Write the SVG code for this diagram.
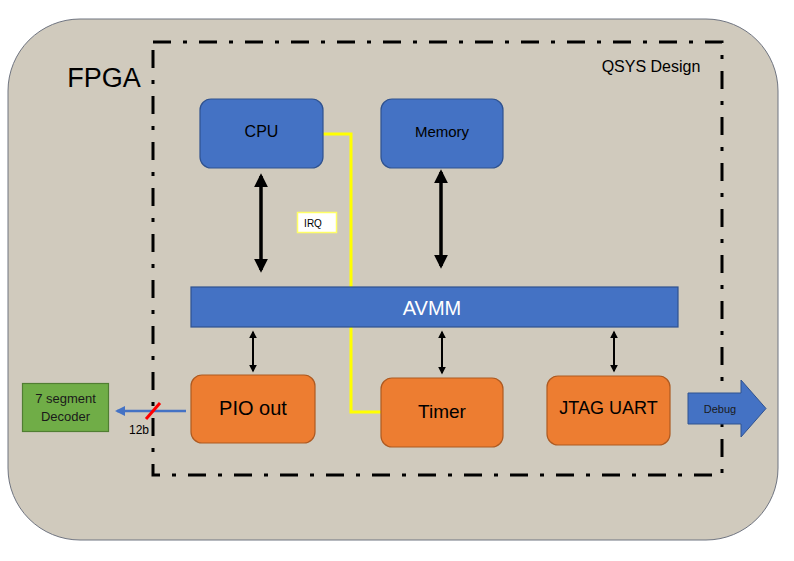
<svg xmlns="http://www.w3.org/2000/svg" width="794" height="561" viewBox="0 0 794 561">
<style>
.blue{fill:#4472c4;stroke:#2f528f;stroke-width:1.2}
.orange{fill:#ed7d31;stroke:#ae5a21;stroke-width:1.2}
.t{font-family:"Liberation Sans",Arial,sans-serif;text-anchor:middle;dominant-baseline:central}
.bus{stroke:#000;fill:none}
</style>
<defs>
<marker id="ah" viewBox="0 0 10 10" refX="8" refY="5" markerWidth="4" markerHeight="4" orient="auto-start-reverse" markerUnits="strokeWidth">
<path d="M0,0 L10,5 L0,10 z" fill="#000"/>
</marker>
<marker id="ahs" viewBox="0 0 10 10" refX="8" refY="5" markerWidth="4" markerHeight="4" orient="auto-start-reverse" markerUnits="strokeWidth">
<path d="M0,0 L10,5 L0,10 z" fill="#000"/>
</marker>
<marker id="ab" viewBox="0 0 10 10" refX="8" refY="5" markerWidth="4" markerHeight="4" orient="auto" markerUnits="strokeWidth">
<path d="M0,0 L10,5 L0,10 z" fill="#4472c4"/>
</marker>
</defs>
<rect x="0" y="0" width="794" height="561" fill="#fff"/>
<g id="fpga">
<rect x="8" y="19" width="770" height="521" rx="72" fill="#d0cabd" stroke="#6f7480" stroke-width="1"/>
<text x="104" y="78" class="t" font-size="27" fill="#000">FPGA</text>
</g>
<g id="qsys">
<rect x="153" y="42" width="569" height="433" fill="none" stroke="#000" stroke-width="3" stroke-dasharray="18 12 4 12"/>
<text x="651" y="66" class="t" font-size="16" fill="#000">QSYS Design</text>
</g>
<g id="connectors">
<polyline points="323,134 351,134 351,412 381,412" fill="none" stroke="#ffff00" stroke-width="3"/>
<line x1="261" y1="176" x2="261" y2="270" class="bus" stroke-width="3.5" marker-start="url(#ah)" marker-end="url(#ah)"/>
<line x1="441" y1="172" x2="441" y2="266" class="bus" stroke-width="3.5" marker-start="url(#ah)" marker-end="url(#ah)"/>
<line x1="253" y1="332" x2="253" y2="371" class="bus" stroke-width="2" marker-start="url(#ahs)" marker-end="url(#ahs)"/>
<line x1="442" y1="332" x2="442" y2="373" class="bus" stroke-width="2" marker-start="url(#ahs)" marker-end="url(#ahs)"/>
<line x1="614" y1="332" x2="614" y2="371" class="bus" stroke-width="2" marker-start="url(#ahs)" marker-end="url(#ahs)"/>
<line x1="186" y1="411" x2="117" y2="411" stroke="#4472c4" stroke-width="2.5" marker-end="url(#ab)"/>
<line x1="146" y1="419" x2="160" y2="403" stroke="#ff0000" stroke-width="3"/>
<text x="139" y="430" class="t" font-size="12" fill="#000">12b</text>
</g>
<g id="irq">
<rect x="297.5" y="212.5" width="39" height="20" fill="#fff" stroke="#ffff66" stroke-width="1.5"/>
<text x="313" y="223" class="t" font-size="10" fill="#000">IRQ</text>
</g>
<g id="cpu">
<rect x="200" y="99" width="123" height="69" rx="11" class="blue"/>
<text x="261.5" y="131" class="t" font-size="16" fill="#000">CPU</text>
</g>
<g id="memory">
<rect x="381" y="99" width="122" height="69" rx="11" class="blue"/>
<text x="442" y="131" class="t" font-size="15" fill="#000">Memory</text>
</g>
<g id="avmm">
<rect x="191" y="287" width="487" height="40" class="blue"/>
<text x="432" y="308" class="t" font-size="20" fill="#fff">AVMM</text>
</g>
<g id="pio">
<rect x="191" y="375" width="124" height="68" rx="11" class="orange"/>
<text x="253" y="408" class="t" font-size="20" fill="#000">PIO out</text>
</g>
<g id="timer">
<rect x="381" y="378" width="122" height="69" rx="11" class="orange"/>
<text x="442" y="411" class="t" font-size="19" fill="#000">Timer</text>
</g>
<g id="jtag">
<rect x="547" y="376" width="123" height="69" rx="11" class="orange"/>
<text x="608.5" y="408" class="t" font-size="18" fill="#000">JTAG UART</text>
</g>
<g id="decoder">
<rect x="22.5" y="383.5" width="86" height="48" fill="#70ad47" stroke="#507e32" stroke-width="1.2"/>
<text x="65.5" y="398" class="t" font-size="13" fill="#1a1a1a">7 segment</text>
<text x="65.5" y="416" class="t" font-size="13" fill="#1a1a1a">Decoder</text>
</g>
<g id="debug">
<path d="M688,393 L741,393 L741,380 L766,408.5 L741,437 L741,424 L688,424 Z" fill="#4472c4" stroke="#2f528f" stroke-width="1"/>
<text x="720" y="409" class="t" font-size="11" fill="#1a1a1a">Debug</text>
</g>
</svg>
